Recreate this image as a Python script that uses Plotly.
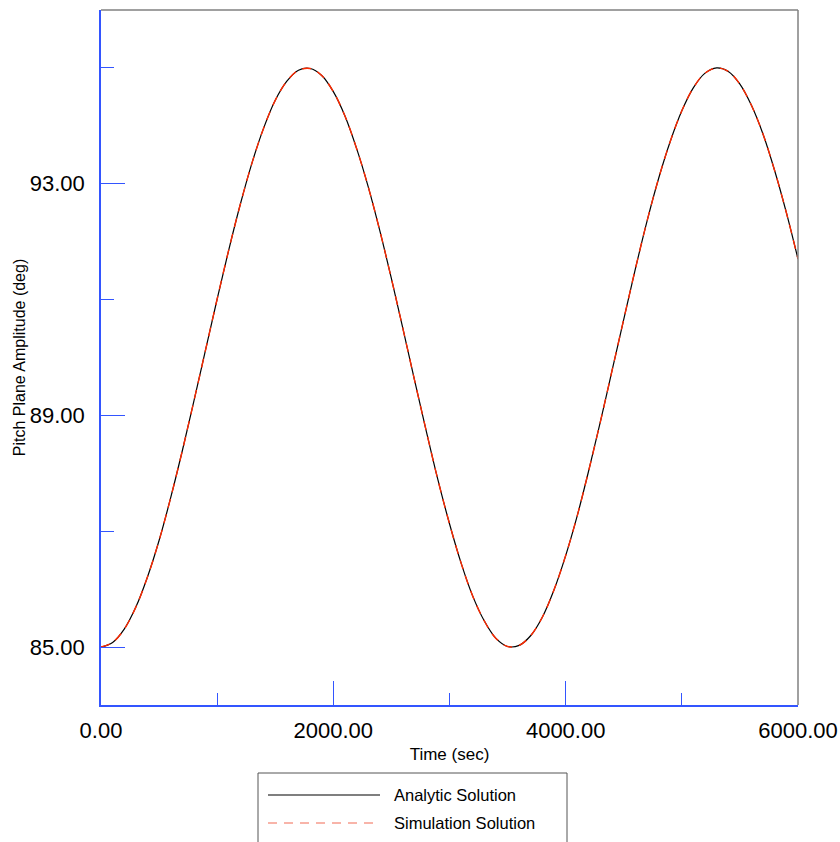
import plotly.graph_objects as go

# ---- data ----
time_sec = [0, 100, 200, 300, 400, 500, 600, 700, 800, 900,
            1000, 1100, 1200, 1300, 1400, 1500, 1600, 1700, 1800, 1900,
            2000, 2100, 2200, 2300, 2400, 2500, 2600, 2700, 2800, 2900,
            3000, 3100, 3200, 3300, 3400, 3500, 3600, 3700, 3800, 3900,
            4000, 4100, 4200, 4300, 4400, 4500, 4600, 4700, 4800, 4900,
            5000, 5100, 5200, 5300, 5400, 5500, 5600, 5700, 5800, 5900,
            6000]
analytic_deg = [85.00, 85.08, 85.31, 85.69, 86.21, 86.84, 87.58, 88.39, 89.25, 90.13,
                91.01, 91.86, 92.65, 93.36, 93.96, 94.44, 94.77, 94.96, 94.99, 94.87,
                94.59, 94.17, 93.61, 92.95, 92.19, 91.36, 90.49, 89.60, 88.73, 87.89,
                87.13, 86.45, 85.88, 85.45, 85.15, 85.01, 85.03, 85.20, 85.52, 85.99,
                86.58, 87.27, 88.06, 88.90, 89.78, 90.66, 91.53, 92.35, 93.09, 93.73,
                94.26, 94.66, 94.91, 95.00, 94.94, 94.72, 94.35, 93.85, 93.22, 92.50,
                91.70]
simulation_deg = [85.00, 85.08, 85.31, 85.69, 86.21, 86.84, 87.58, 88.39, 89.25, 90.13,
                  91.01, 91.86, 92.65, 93.36, 93.96, 94.44, 94.77, 94.96, 94.99, 94.87,
                  94.59, 94.17, 93.61, 92.95, 92.19, 91.36, 90.49, 89.60, 88.73, 87.89,
                  87.13, 86.45, 85.88, 85.45, 85.15, 85.01, 85.03, 85.20, 85.52, 85.99,
                  86.58, 87.27, 88.06, 88.90, 89.78, 90.66, 91.53, 92.35, 93.09, 93.73,
                  94.26, 94.66, 94.91, 95.00, 94.94, 94.72, 94.35, 93.85, 93.22, 92.50,
                  91.70]
x_ticks = [0, 2000, 4000, 6000]
y_ticks = [85, 89, 93]
series_names = ["Analytic Solution", "Simulation Solution"]

BLUE = "#3355ff"
GRAY = "#808080"
RED = "#ff2a00"
FONT = "Liberation Sans, Arial, sans-serif"

fig = go.Figure()
fig.add_trace(go.Scatter(x=time_sec, y=analytic_deg, mode="lines", name=series_names[0],
                         line=dict(color="black", width=1.2, shape="spline"), showlegend=False))
fig.add_trace(go.Scatter(x=time_sec, y=simulation_deg, mode="lines", name=series_names[1],
                         line=dict(color=RED, width=1.4, dash="9px,7px", shape="spline"),
                         showlegend=False))

fig.update_layout(
    width=840, height=842,
    margin=dict(l=101, r=42, t=10, b=137, autoexpand=False),
    paper_bgcolor="white", plot_bgcolor="white",
    font=dict(family=FONT, color="black"),
    showlegend=False,
)
fig.update_xaxes(
    range=[0, 6000], showgrid=False, zeroline=False, automargin=False,
    showline=True, linecolor=BLUE, linewidth=1.5,
    tickmode="array", tickvals=x_ticks, tickformat=".2f",
    ticks="inside", ticklen=24, tickcolor=BLUE, tickwidth=1,
    minor=dict(ticks="inside", ticklen=12, tickcolor=BLUE, tickwidth=1, dtick=1000, tick0=0),
    tickfont=dict(size=22, family=FONT),
    ticklabelstandoff=5,
    title=dict(text="Time (sec)", font=dict(size=17, family=FONT), standoff=6),
)
fig.update_yaxes(
    range=[84, 96], showgrid=False, zeroline=False, automargin=False,
    showline=True, linecolor=BLUE, linewidth=1.5,
    tickmode="array", tickvals=y_ticks, tickformat=".2f",
    ticks="inside", ticklen=24, tickcolor=BLUE, tickwidth=1,
    minor=dict(ticks="inside", ticklen=13, tickcolor=BLUE, tickwidth=1, dtick=2, tick0=85),
    tickfont=dict(size=22, family=FONT),
    ticklabelstandoff=10,
    title=dict(text="Pitch Plane Amplitude (deg)", font=dict(size=16, family=FONT), standoff=0),
)

# top and right gray border
fig.add_shape(type="line", xref="paper", yref="paper", x0=0, x1=1, y0=1, y1=1,
              line=dict(color=GRAY, width=1.5))
fig.add_shape(type="line", xref="paper", yref="paper", x0=1, x1=1, y0=0, y1=1,
              line=dict(color=GRAY, width=1.5))

# manual legend (long line samples like the reference)
def px_x(p):
    return (p - 101) / 697.0

def px_y(p):
    return (705 - p) / 695.0

fig.add_shape(type="rect", xref="paper", yref="paper",
              x0=px_x(258), x1=px_x(567), y0=px_y(850), y1=px_y(773),
              line=dict(color="#555555", width=1), fillcolor="white")
fig.add_shape(type="line", xref="paper", yref="paper",
              x0=px_x(268), x1=px_x(380), y0=px_y(795), y1=px_y(795),
              line=dict(color="black", width=1.2))
fig.add_shape(type="line", xref="paper", yref="paper",
              x0=px_x(268), x1=px_x(380), y0=px_y(823), y1=px_y(823),
              line=dict(color="#f26a55", width=1.2, dash="9px,7px"))
fig.add_annotation(xref="paper", yref="paper", x=px_x(392), y=px_y(795),
                   text=series_names[0], showarrow=False, xanchor="left", yanchor="middle",
                   font=dict(size=16.5, family=FONT, color="black"))
fig.add_annotation(xref="paper", yref="paper", x=px_x(392), y=px_y(823),
                   text=series_names[1], showarrow=False, xanchor="left", yanchor="middle",
                   font=dict(size=16.5, family=FONT, color="black"))

fig.write_html("out.html", config={"displayModeBar": False})

# remove default page margin so the figure sits at the window origin
with open("out.html", "r", encoding="utf-8") as f:
    html = f.read()
html = html.replace("<head>", "<head><style>html,body{margin:0;padding:0;overflow:hidden;}</style>", 1)
with open("out.html", "w", encoding="utf-8") as f:
    f.write(html)
